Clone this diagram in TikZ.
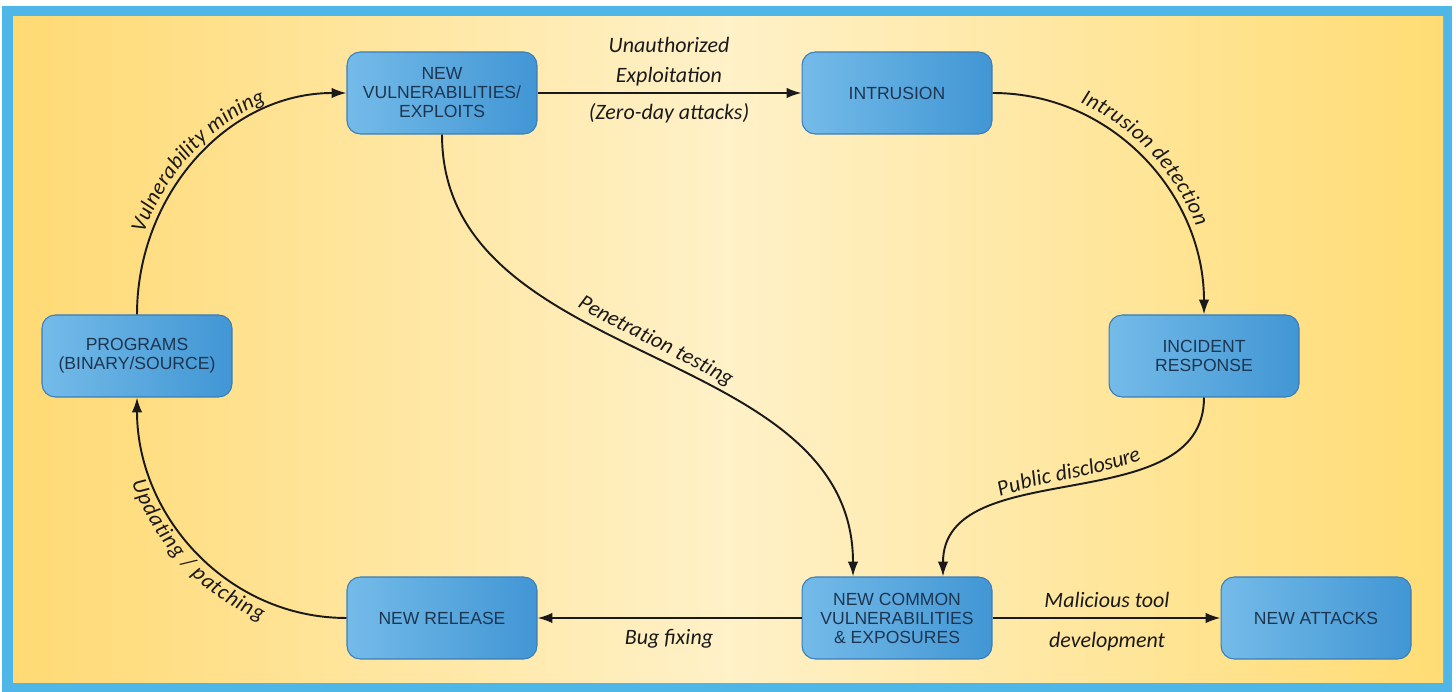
\documentclass[tikz,border=0pt]{standalone}
\usepackage{fontspec}
\usepackage{xcolor}
\usepackage{tikz}
\usetikzlibrary{arrows.meta,decorations.text}
\newfontfamily\boxfam{Liberation Sans}
\newfontfamily\tagfam{Carlito}
\newcommand\tagfont{\tagfam\itshape\fontsize{12.5}{14}\selectfont}
\definecolor{frameblue}{HTML}{4FB7E7}
\definecolor{sandleft}{HTML}{FFDA74}
\definecolor{sandmid}{HTML}{FFF1C8}
\definecolor{sandright}{HTML}{FFDC74}
\definecolor{boxleft}{HTML}{74BBE9}
\definecolor{boxright}{HTML}{4196D4}
\definecolor{boxline}{HTML}{3A7DB8}
\definecolor{boxtext}{HTML}{1E3550}
\definecolor{ink}{HTML}{1A1A1A}

\tikzset{
  stage/.style={draw=boxline, line width=0.6pt, left color=boxleft, right color=boxright,
    rounded corners=7.5pt, minimum width=3.8cm, minimum height=1.64cm, inner sep=0pt,
    align=center, text=boxtext, font=\boxfam\fontsize{10}{10.8}\selectfont},
  flow/.style={draw=ink, line width=1.1pt, -{Latex[length=8.5pt,width=6pt]}},
  tag/.style={text=ink, anchor=base, font=\tagfont},
  curvetag/.style 2 args={decorate, decoration={text along path, text align=center,
    raise=#2, text color=ink, text={|\tagfont|#1}}}
}

\begin{document}
\begin{tikzpicture}[x=0.02cm, y=0.02cm]
  \useasboundingbox (0,0) rectangle (1456,692);
  % frame and background
  \fill[frameblue] (2,0) rectangle (1452,686);
  \shade[left color=sandleft, right color=sandright, middle color=sandmid] (13,9) rectangle (1443,675);

  % stages
  \node[stage] (vuln)  at (442,599)  {NEW\\VULNERABILITIES/\\EXPLOITS};
  \node[stage] (intr)  at (897,599)  {INTRUSION};
  \node[stage] (prog)  at (137,336)  {PROGRAMS\\(BINARY/SOURCE)};
  \node[stage] (incid) at (1204,336) {INCIDENT\\RESPONSE};
  \node[stage] (rel)   at (442,74)   {NEW RELEASE};
  \node[stage] (cve)   at (897,74)   {NEW COMMON\\VULNERABILITIES\\\& EXPOSURES};
  \node[stage] (att)   at (1316,74)  {NEW ATTACKS};

  % connectors
  \draw[flow] (prog.north) to[out=90,in=180] (vuln.west);
  \draw[flow] (vuln.east) -- (intr.west);
  \draw[flow] (intr.east) to[out=0,in=90] (incid.north);
  \draw[flow] (incid.south) to[out=-90,in=90] ([xshift=0.92cm]cve.north);
  \draw[flow] (vuln.south) to[out=-90,in=90] ([xshift=-0.88cm]cve.north);
  \draw[flow] (cve.west) -- (rel.east);
  \draw[flow] (cve.east) -- (att.west);
  \draw[flow] (rel.west) to[out=180,in=-90] (prog.south);

  % straight labels
  \node[tag] (unauth)  at (669,639) {Unauthorized};
  \node[tag] (exploit) at (669,609) {Exploitation};
  \node[tag] (zeroday) at (669,572) {(Zero-day attacks)};
  \node[tag] (bugfix)  at (669,47)  {Bug fixing};
  \node[tag] (malic)   at (1107,84) {Malicious tool};
  \node[tag] (devel)   at (1107,44) {development};

  % curved labels
  \path[curvetag={Vulnerability mining}{4pt}] (prog.north) to[out=90,in=180] (vuln.west);
  \path[curvetag={Intrusion detection}{5pt}] (intr.east) to[out=0,in=90] (incid.north);
  \path[curvetag={Penetration testing}{6pt}] (vuln.south) to[out=-90,in=90] ([xshift=-0.88cm]cve.north);
  \path[curvetag={Public disclosure}{5pt}] ([xshift=0.92cm]cve.north) to[out=90,in=-90] (incid.south);
  \path[curvetag={Updating / patching}{-11.5pt}] (prog.south) to[out=-90,in=180] (rel.west);
\end{tikzpicture}
\end{document}
